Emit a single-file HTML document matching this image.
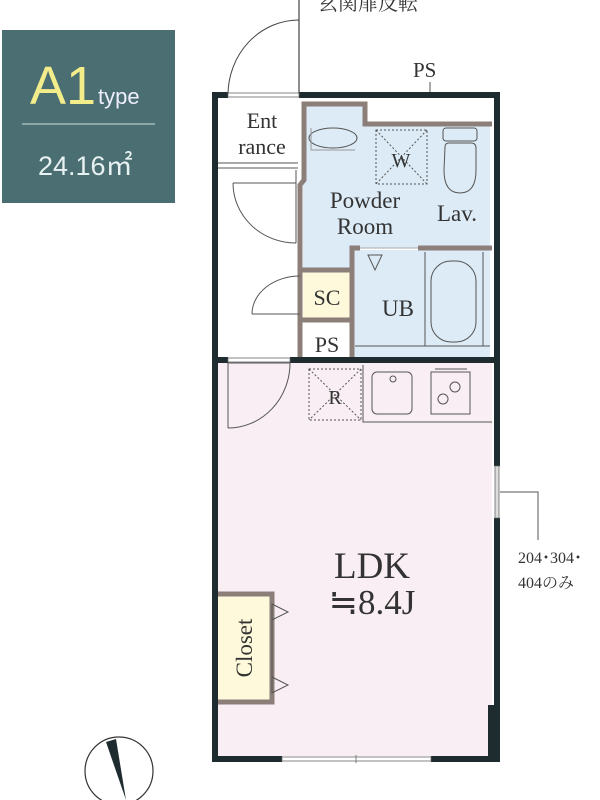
<!DOCTYPE html>
<html><head><meta charset="utf-8"><style>
html,body{margin:0;padding:0;background:#fff;}
svg{display:block;}
text{font-family:"Liberation Serif","Noto Serif CJK SC",serif;fill:#333;}
</style></head><body>
<svg width="600" height="800" viewBox="0 0 600 800" xmlns="http://www.w3.org/2000/svg">
<rect x="2" y="30" width="173" height="173" fill="#4b6e72"/>
<text x="30" y="104" font-size="54" style="fill:#f3ec8a;font-family:'Liberation Sans',sans-serif">A1</text>
<text x="98" y="104" style="fill:#eef;font-family:'Liberation Sans',sans-serif" font-size="22">type</text>
<line x1="22" y1="124" x2="155" y2="124" stroke="#cfe0e0" stroke-width="1"/>
<text x="38" y="175" style="fill:#e8f2f2;font-family:'Liberation Sans',sans-serif" font-size="27">24.16㎡</text>

<text x="318" y="10" font-size="20">玄関扉反転</text>
<text x="413" y="77" font-size="21">PS</text>
<line x1="430" y1="82" x2="430" y2="110" stroke="#555" stroke-width="1"/>
<line x1="299" y1="0" x2="299" y2="95" stroke="#444" stroke-width="1.2"/>
<path d="M228,95 A71,75 0 0 1 299,20" fill="none" stroke="#444" stroke-width="1"/>

<rect x="218" y="98" width="274" height="262" fill="#fff"/>
<path d="M303,104 H365 V124 H490 V248 H353 V272 H303 Z" fill="#dcebf6"/>
<rect x="353" y="250" width="137" height="108" fill="#dcebf6"/>
<rect x="303" y="272" width="49" height="46" fill="#fdf9da"/>
<rect x="218" y="363" width="274" height="393" fill="#f9eef3"/>
<rect x="218" y="592" width="54" height="110" fill="#fdf9da"/>

<g fill="none" stroke="#8c7f79" stroke-width="5">
<path d="M300,357 V185 L304,180 V104 H365 V124 H492"/>
<path d="M352,357 V248 H360 M418,248 H492"/>
<path d="M300,320 H352 M300,270 H352"/>
<path d="M218,594 H272 V702 H218"/>
</g>
<line x1="360" y1="248" x2="418" y2="248" stroke="#aaa" stroke-width="1"/>
<g stroke="#555" stroke-width="1" fill="none">
<path d="M218,163 H298 M218,168 H298"/>
<line x1="296" y1="170" x2="296" y2="243"/>
<path d="M233,183 H296"/>
<path d="M233,183 A63,60 0 0 0 296,243"/>
<path d="M252,314 H300"/>
<path d="M252,314 A48,38 0 0 1 300,276"/>
<path d="M228,363 H290"/>
<path d="M290,363 A62,65 0 0 1 228,428"/>
<line x1="228" y1="428" x2="228" y2="363"/>
<ellipse cx="333" cy="138" rx="24" ry="10"/>
<path d="M311,128 V150 H355" stroke="#999"/>
<rect x="376" y="130" width="51" height="54" stroke-dasharray="2,2"/>
<path d="M376,130 L427,184 M427,130 L376,184" stroke-dasharray="2,2"/>
<rect x="443" y="128" width="34" height="13" rx="3"/>
<path d="M445,147 Q445,143 449,143 H471 Q476,143 476,148 V170 Q476,193 460,193 Q444,193 444,170 Z"/>
<path d="M368,255 L382,255 L375,270 Z"/>
<line x1="425" y1="252" x2="425" y2="346"/>
<line x1="483" y1="252" x2="483" y2="346"/>
<line x1="355" y1="346" x2="490" y2="346"/>
<rect x="431" y="261" width="45" height="81" rx="20"/>
<rect x="309" y="369" width="52" height="51" stroke-dasharray="2,2"/>
<path d="M309,369 L361,420 M361,369 L309,420" stroke-dasharray="2,2"/>
<path d="M363,365 V422 H492"/>
<rect x="372" y="372" width="40" height="42" rx="5"/>
<circle cx="393" cy="379" r="3"/>
<rect x="431" y="372" width="39" height="42"/>
<line x1="435" y1="369" x2="467" y2="369"/>
<circle cx="443" cy="399" r="5"/><circle cx="455" cy="387" r="5"/>
<path d="M272,604 L288,612 L272,620 Z M272,677 L288,685 L272,693 Z"/>
<line x1="272" y1="604" x2="272" y2="693"/>
<path d="M500,492 H538 V540"/>
</g>

<g fill="#1e2c30">
<rect x="212" y="92" width="16" height="6"/>
<rect x="299" y="92" width="201" height="6"/>
<rect x="212" y="92" width="6" height="670"/>
<rect x="494" y="92" width="6" height="374"/>
<rect x="494" y="518" width="6" height="244"/>
<rect x="488" y="705" width="8" height="55"/>
<rect x="290" y="357" width="210" height="6"/>
<rect x="212" y="357" width="16" height="6"/>
<rect x="212" y="756" width="70" height="6"/>
<rect x="431" y="756" width="69" height="6"/>
</g>
<rect x="228" y="93" width="71" height="4" fill="#fff" stroke="#666" stroke-width="0.8"/>
<rect x="228" y="358" width="62" height="4" fill="#fff" stroke="#666" stroke-width="0.8"/>
<rect x="495" y="466" width="4" height="52" fill="#ddd" stroke="#666" stroke-width="0.8"/>
<rect x="282" y="757" width="149" height="4" fill="#fff" stroke="#666" stroke-width="0.8"/>
<line x1="356" y1="755" x2="356" y2="763" stroke="#666" stroke-width="0.8"/>

<text x="262" y="128" font-size="22" text-anchor="middle">Ent</text>
<text x="262" y="154" font-size="22" text-anchor="middle">rance</text>
<text x="401" y="167" font-size="20" text-anchor="middle">W</text>
<text x="365" y="208" font-size="23" text-anchor="middle">Powder</text>
<text x="365" y="234" font-size="23" text-anchor="middle">Room</text>
<text x="457" y="221" font-size="23" text-anchor="middle">Lav.</text>
<text x="327" y="305" font-size="22" text-anchor="middle">SC</text>
<text x="398" y="316" font-size="23" text-anchor="middle">UB</text>
<text x="327" y="352" font-size="22" text-anchor="middle">PS</text>
<text x="335" y="404" font-size="20" text-anchor="middle">R</text>
<text x="372" y="578" font-size="37" text-anchor="middle">LDK</text>
<text x="372" y="614" font-size="35" text-anchor="middle">≒8.4J</text>
<text transform="translate(252,648) rotate(-90)" font-size="23" text-anchor="middle">Closet</text>
<text x="518" y="563" font-size="16">204･304･</text>
<text x="518" y="588" font-size="16">404のみ</text>

<circle cx="119" cy="771" r="34" fill="none" stroke="#333" stroke-width="1.2"/>
<path d="M106,742 L116,739 L126,800 Z" fill="#1e2c30"/>
</svg>
</body></html>
